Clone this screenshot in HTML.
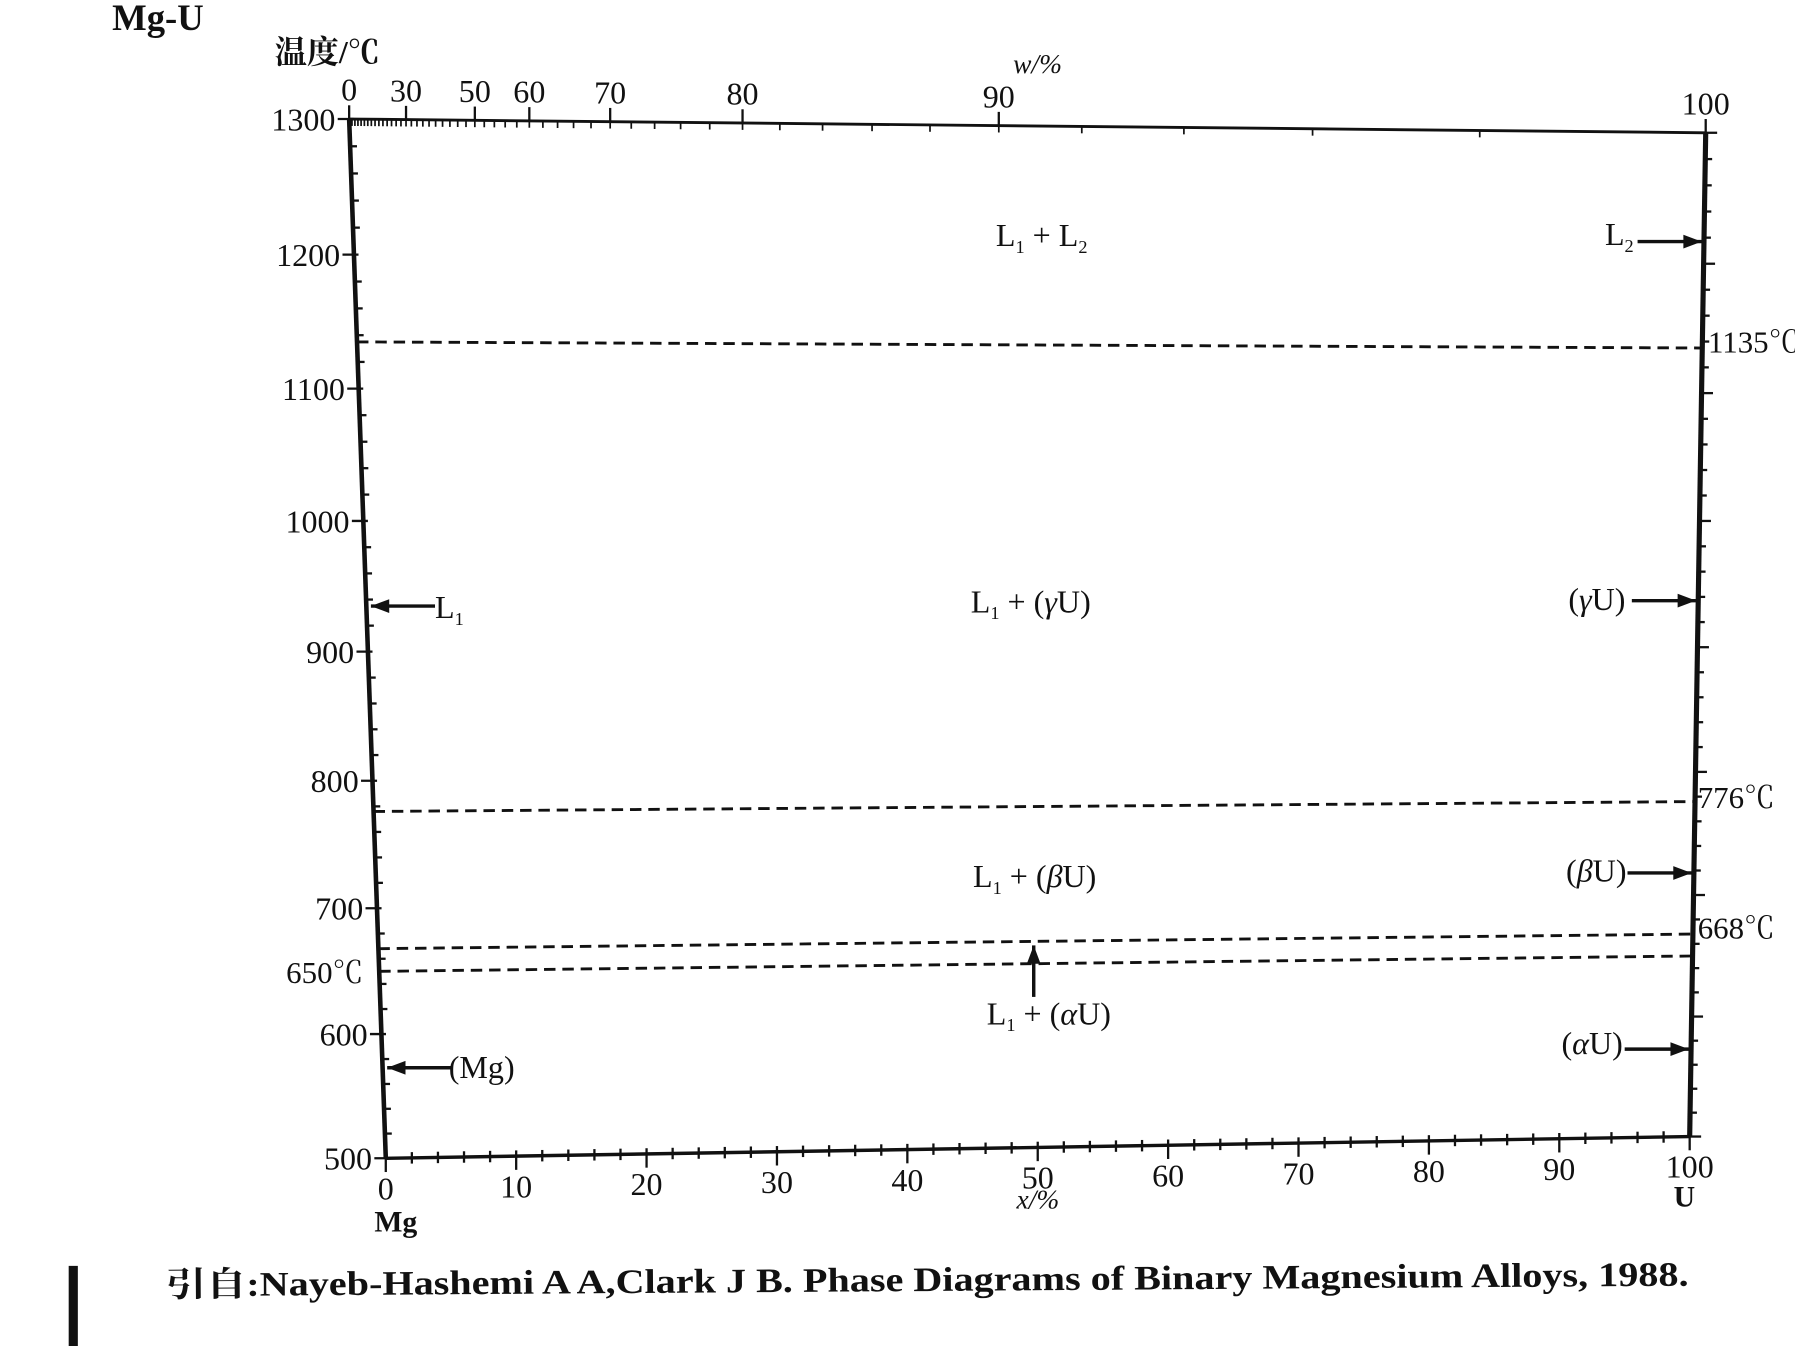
<!DOCTYPE html>
<html><head><meta charset="utf-8"><style>
html,body{margin:0;padding:0;background:#fff;}
svg{display:block;}
text{font-family:"Liberation Serif","Noto Serif CJK SC",serif;fill:#111;}
</style></head><body>
<svg id="chart" width="1795" height="1346" viewBox="0 0 1568 1176" preserveAspectRatio="none" xmlns="http://www.w3.org/2000/svg">
<rect width="1568" height="1176" fill="#fff"/>
<text x="98" y="26" font-size="32" font-weight="bold">Mg-U</text>
<text x="240" y="55" font-size="28" font-weight="bold">温度/℃</text>
<text x="885" y="64" font-size="24" font-style="italic">w/%</text>
<text x="888" y="1056" font-size="24" font-style="italic">x/%</text>
<text x="327" y="1076" font-size="26" font-weight="bold">Mg</text>
<text x="1462" y="1054" font-size="26" font-weight="bold">U</text>
<g id="marks"></g>
<text x="870" y="215" font-size="28">L<tspan font-size="16" dy="6">1</tspan><tspan dy="-6"> + L</tspan><tspan font-size="16" dy="6">2</tspan></text>
<text x="848" y="535" font-size="28">L<tspan font-size="16" dy="6">1</tspan><tspan dy="-6"> + (</tspan><tspan font-style="italic">γ</tspan>U)</text>
<text x="850" y="775" font-size="28">L<tspan font-size="16" dy="6">1</tspan><tspan dy="-6"> + (</tspan><tspan font-style="italic">β</tspan>U)</text>
<text x="862" y="895" font-size="28">L<tspan font-size="16" dy="6">1</tspan><tspan dy="-6"> + (</tspan><tspan font-style="italic">α</tspan>U)</text>
<text x="380" y="540" font-size="28">L<tspan font-size="16" dy="6">1</tspan></text>
<text x="392" y="942" font-size="28">(Mg)</text>
<text x="1402" y="214" font-size="28">L<tspan font-size="16" dy="6">2</tspan></text>
<text x="1370" y="533" font-size="28">(<tspan font-style="italic">γ</tspan>U)</text>
<text x="1368" y="770" font-size="28">(<tspan font-style="italic">β</tspan>U)</text>
<text x="1364" y="921" font-size="28">(<tspan font-style="italic">α</tspan>U)</text>
<text x="1492" y="308" font-size="27">1135℃</text>
<text x="1483" y="706" font-size="27">776℃</text>
<text x="1483" y="820" font-size="27">668℃</text>
<text x="250" y="859" font-size="27">650℃</text>
<text x="145" y="1128" font-size="30" font-weight="bold" transform="rotate(-0.4 800 1115)" textLength="1330" lengthAdjust="spacingAndGlyphs">引自:Nayeb-Hashemi A A,Clark J B. Phase Diagrams of Binary Magnesium Alloys, 1988.</text>
<rect x="60" y="1106" width="8" height="70" fill="#111"/>
</svg>
<script>
const tempTicks = [1300, 1200, 1100, 1000, 900, 800, 700, 600, 500];
const atTicks = [0, 10, 20, 30, 40, 50, 60, 70, 80, 90, 100];
const wtTicks = [0, 30, 50, 60, 70, 80, 90, 100];
const isotherms = [1135, 776, 668, 650];
const leftArrows = [{label:'L1', T:935}, {label:'Mg', T:573}];
const rightArrows = [{label:'L2', T:1217}, {label:'gammaU', T:937}, {label:'betaU', T:718}, {label:'alphaU', T:573}];

const NS = 'http://www.w3.org/2000/svg';
const TL=[305,104], BL=[337,1012], TR=[1490,116], BR=[1476,993];
function P(u, T){
  const s=u/100; let t=(1300-T)/800;
  t = t + 0.05*t*(1-t);
  const l=[TL[0]+(BL[0]-TL[0])*t, TL[1]+(BL[1]-TL[1])*t];
  const r=[TR[0]+(BR[0]-TR[0])*t, TR[1]+(BR[1]-TR[1])*t];
  return [l[0]+(r[0]-l[0])*s, l[1]+(r[1]-l[1])*s];
}
function wtToAt(w){ if(w>=100) return 100; const a=w/238.03, b=(100-w)/24.305; return 100*a/(a+b); }
const g=document.getElementById('marks');
function mk(tag, attrs){ const e=document.createElementNS(NS,tag); for(const k in attrs) e.setAttribute(k,attrs[k]); g.appendChild(e); return e; }
function line(a,b,w,dash){ const e=mk('line',{x1:a[0],y1:a[1],x2:b[0],y2:b[1],stroke:'#111','stroke-width':w}); if(dash) e.setAttribute('stroke-dasharray',dash); return e; }

let e;
e=line(P(0,1300),P(0,500),4);


e=line(P(100,1300),P(100,500),4.5);


e=line(P(0,1300),P(100,1300),2.5);


e=line(P(0,500),P(100,500),3);



for(let T=500; T<=1300; T+=20){
  const a=P(0,T), b=P(100,T);
  const major = T%100===0;
  e=line([a[0]-(major?10:0),a[1]],[a[0]+(major?4:6),a[1]],2);
  
  
  e=line([b[0],b[1]],[b[0]+(major?10:6),b[1]],2);
  
  
}
tempTicks.forEach(T=>{
  const a=P(0,T);
  e=mk('text',{x:a[0]-12,y:a[1]+10,'font-size':28,'text-anchor':'end'}); e.textContent=T;
  
  
});
for(let u=0; u<=100; u+=2){
  const a=P(u,500), major=u%10===0;
  e=line([a[0],a[1]-5],[a[0],a[1]+(major?12:5)],2);
  
  
}
atTicks.forEach(u=>{
  const a=P(u,500);
  e=mk('text',{x:a[0],y:a[1]+36,'font-size':28,'text-anchor':'middle'}); e.textContent=u;
  
  
});
for(let w=0; w<100; w+=2){
  const a=P(wtToAt(w),1300);
  e=line([a[0],a[1]],[a[0],a[1]+6],1.5);
  
  
}
wtTicks.forEach(w=>{
  const a=P(wtToAt(w),1300);
  e=line([a[0],a[1]-12],[a[0],a[1]],2);
  
  
  e=mk('text',{x:a[0],y:a[1]-16,'font-size':28,'text-anchor':'middle'}); e.textContent=w;
  
  
});
isotherms.forEach(T=>{
  e=line(P(0,T),P(100,T),2.5,'10 6');
  
  
});
function arrow(x1,y1,x2,y2,name){
  e=line([x1,y1],[x2,y2],3);
  
  
  const dx=x2-x1, dy=y2-y1, L=Math.hypot(dx,dy), ux=dx/L, uy=dy/L;
  const bx=x2-ux*16, by=y2-uy*16;
  e=mk('polygon',{points:`${x2},${y2} ${bx-uy*6},${by+ux*6} ${bx+uy*6},${by-ux*6}`,fill:'#111'});
  
  
}
leftArrows.forEach(a=>{ const p=P(0,a.T); arrow(p[0]+60,p[1],p[0]+4,p[1],'arrow-'+a.label); });
rightArrows.forEach(a=>{ const p=P(100,a.T); arrow(p[0]-58,p[1],p[0]-2,p[1],'arrow-'+a.label); });
arrow(903,871,903,826,'arrow-alpha-region');
</script>
</body></html>
